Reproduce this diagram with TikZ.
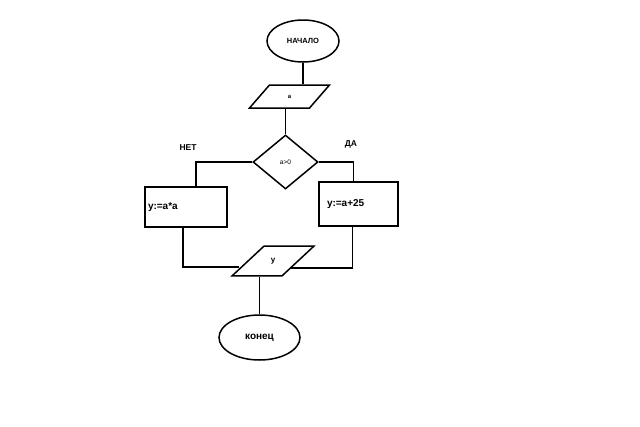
\documentclass[tikz,border=0pt]{standalone}
\usepackage{fontspec}
\setmainfont{Liberation Sans}
\usetikzlibrary{shapes.geometric}

\begin{document}
\begin{tikzpicture}[x=1pt, y=-1pt, line width=1.5pt]

    % Stijlen voor de blokken
    \tikzset{
        term/.style={ellipse, draw, inner sep=0pt},
        io/.style={trapezium, draw, trapezium stretches body, inner xsep=0pt},
        test/.style={diamond, draw, inner sep=0pt, minimum width=65pt, minimum height=54pt},
        act/.style={rectangle, draw, align=left, inner ysep=0pt},
        lbl/.style={font=\bfseries\fontsize{8.5}{10}\selectfont}
    }

    \useasboundingbox (0,0) rectangle (640,426);

    % --- BLOKKEN ---
    \node[term, minimum width=72pt, minimum height=42pt, font=\bfseries\fontsize{7.5}{9}\selectfont] (start) at (303,41) {НАЧАЛО};
    \node[io, trapezium left angle=49, trapezium right angle=131, text height=3pt, text depth=0pt, inner ysep=10pt, minimum width=80pt, font=\bfseries\fontsize{6}{7}\selectfont] (inA) at (289.5,96.5) {a};
    \node[test, font=\fontsize{6.5}{8}\selectfont] (cond) at (285.5,162) {a>0};
    \node[act, minimum width=82pt, minimum height=40pt, inner xsep=3pt, text width=76pt, font=\bfseries\fontsize{10}{12}\selectfont] (no) at (186,207) {y:=a*a};
    \node[act, minimum width=79pt, minimum height=44pt, inner xsep=8pt, text width=63pt, font=\bfseries\fontsize{10}{12}\selectfont] (yes) at (358.5,204) {y:=a+25};
    \node[io, trapezium left angle=43, trapezium right angle=137, text height=4.2pt, text depth=1.7pt, inner ysep=12pt, minimum width=82pt, font=\bfseries\fontsize{8}{9}\selectfont] (out) at (273,261) {y};
    \node[term, minimum width=81pt, minimum height=45pt, font=\bfseries\fontsize{10}{12}\selectfont] (stop) at (259.5,337.5) {конец};

    % --- LABELS ---
    \node[lbl] (lno) at (188,148) {НЕТ};
    \node[lbl] (lyes) at (351,144) {ДА};

    % --- VERBINDINGEN ---
    \draw (start.south) -- (start.south |- inA.north);
    \draw (cond.north |- inA.south) -- (cond.north);
    \draw (cond.west) -| ([xshift=10pt]no.north);
    \draw (cond.east) -| ([xshift=-5pt]yes.north);
    \draw ([xshift=-3pt]no.south) |- ([xshift=-8pt, yshift=-6pt]out.west);
    \draw ([xshift=-6pt]yes.south) |- ([xshift=-9pt, yshift=-7pt]out.east);
    \draw (stop.north) -- (stop.north |- out.south);

\end{tikzpicture}
\end{document}
